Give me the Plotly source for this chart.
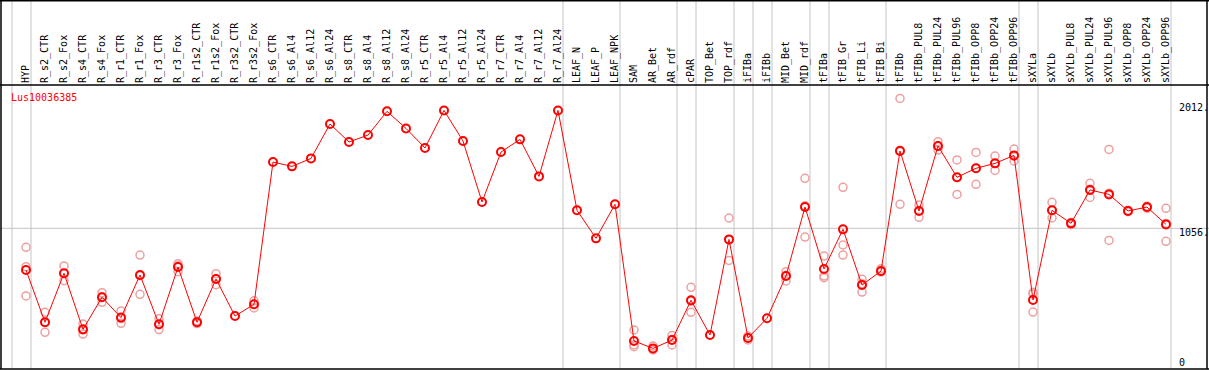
import plotly.graph_objects as go

gene_id = "Lus10036385"

categories = [
    "HYP", "R_s2_CTR", "R_s2_Fox", "R_s4_CTR", "R_s4_Fox", "R_r1_CTR", "R_r1_Fox",
    "R_r3_CTR", "R_r3_Fox", "R_r1s2_CTR", "R_r1s2_Fox", "R_r3s2_CTR", "R_r3s2_Fox",
    "R_s6_CTR", "R_s6_Al4", "R_s6_Al12", "R_s6_Al24", "R_s8_CTR", "R_s8_Al4",
    "R_s8_Al12", "R_s8_Al24", "R_r5_CTR", "R_r5_Al4", "R_r5_Al12", "R_r5_Al24",
    "R_r7_CTR", "R_r7_Al4", "R_r7_Al12", "R_r7_Al24", "LEAF_N", "LEAF_P", "LEAF_NPK",
    "SAM", "AR_Bet", "AR_rdf", "cPAR", "TOP_Bet", "TOP_rdf", "iFIBa", "iFIBb",
    "MID_Bet", "MID_rdf", "tFIBa", "tFIB_Gr", "tFIB_Li", "tFIB_Bi", "tFIBb",
    "tFIBb_PUL8", "tFIBb_PUL24", "tFIBb_PUL96", "tFIBb_OPP8", "tFIBb_OPP24",
    "tFIBb_OPP96", "sXYLa", "sXYLb", "sXYLb_PUL8", "sXYLb_PUL24", "sXYLb_PUL96",
    "sXYLb_OPP8", "sXYLb_OPP24", "sXYLb_OPP96",
]

mean_values = [
    736, 335, 711, 281, 527, 371, 698, 320, 759, 335, 667, 383, 473,
    1564, 1531, 1592, 1856, 1718, 1771, 1953, 1822, 1672, 1960, 1725, 1258,
    1641, 1738, 1454, 1960, 1194, 979, 1240,
    192, 135, 199, 504, 238, 971, 215, 366, 690, 1219, 744, 1048, 621, 728,
    1649, 1189, 1687, 1447, 1516, 1554, 1615,
    506, 1194, 1094, 1350, 1316, 1189, 1219, 1086,
]

replicates = [
    [910, 762, 537], [412, 258, 335], [767, 654, 712], [322, 245, 276],
    [562, 488, 531], [422, 327, 364], [851, 550, 693], [363, 279, 318],
    [785, 723, 769], [345, 325, 335], [708, 624, 669], [], [500, 445, 473],
    [], [], [], [], [], [], [], [], [], [], [], [],
    [], [], [], [], [], [], [],
    [276, 161, 148], [153, 123, 129], [233, 161, 203], [603, 412, 497], [],
    [1135, 810, 968], [200, 230, 215], [], [723, 652, 695], [1439, 989, 1229],
    [843, 690, 677], [1370, 928, 851], [665, 567, 631], [746, 720, 728],
    [2052, 1240, 1655], [1235, 1140, 1192], [1720, 1656, 1685], [1580, 1316, 1445],
    [1638, 1393, 1517], [1610, 1500, 1552], [1664, 1572, 1609],
    [565, 552, 414], [1255, 1135, 1192], [1084, 1100, 1094], [1401, 1293, 1356],
    [1661, 963, 1324], [1189, 1195, 1183], [1209, 1225, 1219], [1209, 956, 1093],
]

# index of the last column before each grey separator line
group_ends = [-1, 0, 28, 31, 34, 35, 37, 38, 39, 41, 42, 45, 52, 53, 60]

grid_value = 1056
right_tick_vals = [2012, 1056, 0]
right_tick_text = ["2012.", "1056.", "0"]

# ---- layout geometry (pixels) ----
W, H = 1209, 370
FIRST_X, STEP = 26, 19
TOP_SEP, BOTTOM = 85, 369
Y_ZERO, Y_GRID = 366, 228.3
units_per_px = grid_value / (Y_ZERO - Y_GRID)

FONT = "DejaVu Sans Mono"
RED = "#ff0000"
PINK = "#eea0a0"
GREY = "#c4c4c4"

def pap_y(p):
    return 1 - p / H

def pap_x(p):
    return p / W

rep_x, rep_y = [], []
for i, reps in enumerate(replicates):
    for v in reps:
        rep_x.append(i)
        rep_y.append(v)

fig = go.Figure()
fig.add_trace(go.Scatter(
    x=rep_x, y=rep_y, mode="markers", hoverinfo="skip",
    marker=dict(symbol="circle-open", size=8, color=PINK, line=dict(width=1.5)),
))
fig.add_trace(go.Scatter(
    x=list(range(len(categories))), y=mean_values, mode="lines+markers",
    line=dict(color=RED, width=1),
    marker=dict(symbol="circle-open", size=8, color=RED, line=dict(width=2)),
))

shapes = []
for k in group_ends:
    xv = k + (5 / STEP)
    shapes.append(dict(type="line", xref="x", yref="paper", x0=xv, x1=xv,
                       y0=pap_y(BOTTOM), y1=1, line=dict(color=GREY, width=1), layer="below"))
shapes.append(dict(type="line", xref="paper", yref="y", x0=0, x1=1,
                   y0=grid_value, y1=grid_value, line=dict(color=GREY, width=1), layer="below"))
black = dict(color="black", width=1.5)
for yy in [0.75, TOP_SEP, BOTTOM]:
    shapes.append(dict(type="line", xref="paper", yref="paper", x0=0, x1=1,
                       y0=pap_y(yy), y1=pap_y(yy), line=black))
for xx in [1, 1207]:
    shapes.append(dict(type="line", xref="paper", yref="paper", x0=pap_x(xx), x1=pap_x(xx),
                       y0=pap_y(BOTTOM), y1=1, line=black))

annotations = [dict(text=gene_id, xref="paper", yref="paper", x=pap_x(9), y=pap_y(97),
                    xanchor="left", yanchor="middle", showarrow=False,
                    font=dict(family=FONT, size=10, color=RED))]
for v, t in zip(right_tick_vals, right_tick_text):
    shift = 4 if v == 0 else -4
    annotations.append(dict(text=t, xref="paper", yref="y", x=pap_x(1177), y=v,
                            xanchor="left", yanchor="middle", yshift=shift, showarrow=False,
                            font=dict(family=FONT, size=10, color="black")))

fig.update_layout(
    width=W, height=H, margin=dict(l=0, r=0, t=0, b=0),
    paper_bgcolor="white", plot_bgcolor="white", showlegend=False,
    shapes=shapes, annotations=annotations,
    xaxis=dict(range=[-FIRST_X / STEP, (W - FIRST_X) / STEP], domain=[0, 1],
               side="top", tickmode="array", tickvals=list(range(len(categories))),
               ticktext=categories, tickangle=-90, ticks="", ticklabelstandoff=1,
               ticklabelshift=0,
               tickfont=dict(family=FONT, size=10, color="black"),
               showgrid=False, zeroline=False, showline=False, fixedrange=True),
    yaxis=dict(domain=[pap_y(BOTTOM), pap_y(TOP_SEP)],
               range=[(Y_ZERO - BOTTOM) * units_per_px, (Y_ZERO - TOP_SEP) * units_per_px],
               showgrid=False, zeroline=False, showline=False, showticklabels=False,
               fixedrange=True),
)

fig.write_html(
    "out.html",
    config={"displayModeBar": False},
    post_script="document.body.style.margin='0px';document.body.style.overflow='hidden';",
)
